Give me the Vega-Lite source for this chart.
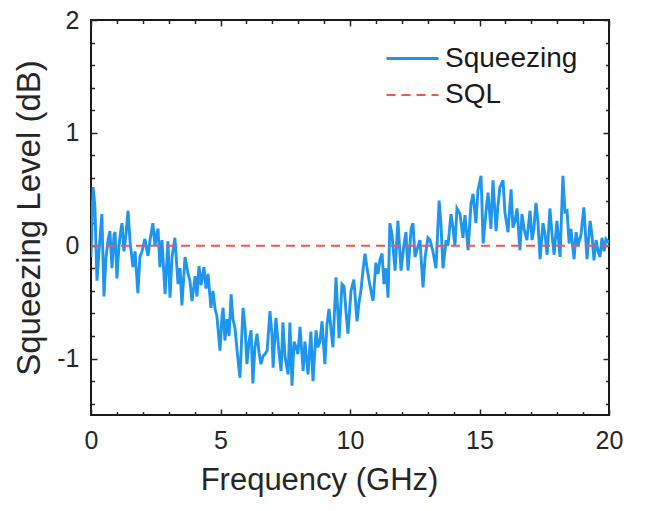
{
"$schema": "https://vega.github.io/schema/vega-lite/v6.json",
"width": 518, "height": 395,
"autosize": "none",
"padding": {"left": 91, "top": 20, "right": 37, "bottom": 96},
"data": {"values": [
{"f":0,"v":-0.1,"s":"Squeezing"},{"f":0.08,"v":0.52,"s":"Squeezing"},{"f":0.15,"v":0.35,"s":"Squeezing"},{"f":0.23,"v":-0.31,"s":"Squeezing"},{"f":0.31,"v":-0.05,"s":"Squeezing"},{"f":0.42,"v":0.28,"s":"Squeezing"},{"f":0.5,"v":-0.45,"s":"Squeezing"},{"f":0.58,"v":-0.1,"s":"Squeezing"},{"f":0.66,"v":0.05,"s":"Squeezing"},{"f":0.73,"v":0.13,"s":"Squeezing"},{"f":0.81,"v":-0.2,"s":"Squeezing"},{"f":0.89,"v":0.1,"s":"Squeezing"},{"f":0.93,"v":0.12,"s":"Squeezing"},{"f":1.0,"v":-0.29,"s":"Squeezing"},{"f":1.08,"v":0.0,"s":"Squeezing"},{"f":1.16,"v":0.15,"s":"Squeezing"},{"f":1.2,"v":0.2,"s":"Squeezing"},{"f":1.27,"v":-0.05,"s":"Squeezing"},{"f":1.35,"v":0.1,"s":"Squeezing"},{"f":1.43,"v":0.31,"s":"Squeezing"},{"f":1.51,"v":0.03,"s":"Squeezing"},{"f":1.62,"v":-0.19,"s":"Squeezing"},{"f":1.7,"v":-0.05,"s":"Squeezing"},{"f":1.81,"v":-0.42,"s":"Squeezing"},{"f":1.89,"v":-0.1,"s":"Squeezing"},{"f":1.97,"v":-0.05,"s":"Squeezing"},{"f":2.08,"v":0.06,"s":"Squeezing"},{"f":2.2,"v":-0.09,"s":"Squeezing"},{"f":2.28,"v":0.05,"s":"Squeezing"},{"f":2.39,"v":0.2,"s":"Squeezing"},{"f":2.47,"v":0.0,"s":"Squeezing"},{"f":2.55,"v":0.12,"s":"Squeezing"},{"f":2.59,"v":0.15,"s":"Squeezing"},{"f":2.66,"v":-0.19,"s":"Squeezing"},{"f":2.74,"v":0.05,"s":"Squeezing"},{"f":2.86,"v":-0.43,"s":"Squeezing"},{"f":2.97,"v":0.04,"s":"Squeezing"},{"f":3.05,"v":-0.46,"s":"Squeezing"},{"f":3.13,"v":-0.1,"s":"Squeezing"},{"f":3.24,"v":0.07,"s":"Squeezing"},{"f":3.36,"v":-0.34,"s":"Squeezing"},{"f":3.44,"v":-0.2,"s":"Squeezing"},{"f":3.51,"v":-0.53,"s":"Squeezing"},{"f":3.63,"v":-0.1,"s":"Squeezing"},{"f":3.75,"v":-0.25,"s":"Squeezing"},{"f":3.82,"v":-0.31,"s":"Squeezing"},{"f":3.9,"v":-0.49,"s":"Squeezing"},{"f":4.02,"v":-0.27,"s":"Squeezing"},{"f":4.09,"v":-0.45,"s":"Squeezing"},{"f":4.17,"v":-0.18,"s":"Squeezing"},{"f":4.25,"v":-0.35,"s":"Squeezing"},{"f":4.36,"v":-0.19,"s":"Squeezing"},{"f":4.44,"v":-0.38,"s":"Squeezing"},{"f":4.52,"v":-0.25,"s":"Squeezing"},{"f":4.63,"v":-0.55,"s":"Squeezing"},{"f":4.71,"v":-0.4,"s":"Squeezing"},{"f":4.79,"v":-0.56,"s":"Squeezing"},{"f":4.86,"v":-0.62,"s":"Squeezing"},{"f":4.98,"v":-0.93,"s":"Squeezing"},{"f":5.06,"v":-0.62,"s":"Squeezing"},{"f":5.1,"v":-0.55,"s":"Squeezing"},{"f":5.17,"v":-0.84,"s":"Squeezing"},{"f":5.25,"v":-0.65,"s":"Squeezing"},{"f":5.33,"v":-0.8,"s":"Squeezing"},{"f":5.41,"v":-0.43,"s":"Squeezing"},{"f":5.48,"v":-0.65,"s":"Squeezing"},{"f":5.56,"v":-0.73,"s":"Squeezing"},{"f":5.64,"v":-0.93,"s":"Squeezing"},{"f":5.75,"v":-1.17,"s":"Squeezing"},{"f":5.87,"v":-0.55,"s":"Squeezing"},{"f":5.95,"v":-0.73,"s":"Squeezing"},{"f":6.02,"v":-1.05,"s":"Squeezing"},{"f":6.1,"v":-0.85,"s":"Squeezing"},{"f":6.18,"v":-0.75,"s":"Squeezing"},{"f":6.25,"v":-1.22,"s":"Squeezing"},{"f":6.33,"v":-0.9,"s":"Squeezing"},{"f":6.41,"v":-0.78,"s":"Squeezing"},{"f":6.49,"v":-0.95,"s":"Squeezing"},{"f":6.56,"v":-1.05,"s":"Squeezing"},{"f":6.64,"v":-0.98,"s":"Squeezing"},{"f":6.72,"v":-0.96,"s":"Squeezing"},{"f":6.8,"v":-0.93,"s":"Squeezing"},{"f":6.91,"v":-0.58,"s":"Squeezing"},{"f":6.99,"v":-0.8,"s":"Squeezing"},{"f":7.03,"v":-1.08,"s":"Squeezing"},{"f":7.14,"v":-0.64,"s":"Squeezing"},{"f":7.26,"v":-0.95,"s":"Squeezing"},{"f":7.34,"v":-1.11,"s":"Squeezing"},{"f":7.41,"v":-0.68,"s":"Squeezing"},{"f":7.49,"v":-0.98,"s":"Squeezing"},{"f":7.61,"v":-1.14,"s":"Squeezing"},{"f":7.68,"v":-0.68,"s":"Squeezing"},{"f":7.76,"v":-1.24,"s":"Squeezing"},{"f":7.84,"v":-0.85,"s":"Squeezing"},{"f":7.92,"v":-0.9,"s":"Squeezing"},{"f":7.99,"v":-0.96,"s":"Squeezing"},{"f":8.07,"v":-0.72,"s":"Squeezing"},{"f":8.19,"v":-1.11,"s":"Squeezing"},{"f":8.26,"v":-0.85,"s":"Squeezing"},{"f":8.38,"v":-1.14,"s":"Squeezing"},{"f":8.49,"v":-0.76,"s":"Squeezing"},{"f":8.57,"v":-1.2,"s":"Squeezing"},{"f":8.69,"v":-0.75,"s":"Squeezing"},{"f":8.76,"v":-0.9,"s":"Squeezing"},{"f":8.84,"v":-0.85,"s":"Squeezing"},{"f":8.92,"v":-0.67,"s":"Squeezing"},{"f":9.03,"v":-1.05,"s":"Squeezing"},{"f":9.11,"v":-0.7,"s":"Squeezing"},{"f":9.19,"v":-0.56,"s":"Squeezing"},{"f":9.27,"v":-0.75,"s":"Squeezing"},{"f":9.34,"v":-0.9,"s":"Squeezing"},{"f":9.46,"v":-0.28,"s":"Squeezing"},{"f":9.58,"v":-0.82,"s":"Squeezing"},{"f":9.69,"v":-0.34,"s":"Squeezing"},{"f":9.77,"v":-0.36,"s":"Squeezing"},{"f":9.85,"v":-0.6,"s":"Squeezing"},{"f":9.92,"v":-0.78,"s":"Squeezing"},{"f":10.04,"v":-0.4,"s":"Squeezing"},{"f":10.15,"v":-0.3,"s":"Squeezing"},{"f":10.27,"v":-0.67,"s":"Squeezing"},{"f":10.35,"v":-0.5,"s":"Squeezing"},{"f":10.42,"v":-0.4,"s":"Squeezing"},{"f":10.5,"v":-0.22,"s":"Squeezing"},{"f":10.58,"v":-0.07,"s":"Squeezing"},{"f":10.66,"v":-0.2,"s":"Squeezing"},{"f":10.73,"v":-0.3,"s":"Squeezing"},{"f":10.81,"v":-0.4,"s":"Squeezing"},{"f":10.89,"v":-0.49,"s":"Squeezing"},{"f":11.0,"v":-0.15,"s":"Squeezing"},{"f":11.08,"v":-0.25,"s":"Squeezing"},{"f":11.16,"v":-0.12,"s":"Squeezing"},{"f":11.24,"v":-0.07,"s":"Squeezing"},{"f":11.31,"v":-0.34,"s":"Squeezing"},{"f":11.39,"v":-0.2,"s":"Squeezing"},{"f":11.47,"v":-0.46,"s":"Squeezing"},{"f":11.54,"v":0.2,"s":"Squeezing"},{"f":11.62,"v":0.1,"s":"Squeezing"},{"f":11.74,"v":-0.22,"s":"Squeezing"},{"f":11.85,"v":0.22,"s":"Squeezing"},{"f":11.97,"v":-0.22,"s":"Squeezing"},{"f":12.08,"v":0.0,"s":"Squeezing"},{"f":12.16,"v":0.12,"s":"Squeezing"},{"f":12.24,"v":-0.22,"s":"Squeezing"},{"f":12.36,"v":0.15,"s":"Squeezing"},{"f":12.43,"v":0.2,"s":"Squeezing"},{"f":12.51,"v":-0.1,"s":"Squeezing"},{"f":12.63,"v":0.0,"s":"Squeezing"},{"f":12.7,"v":0.05,"s":"Squeezing"},{"f":12.82,"v":-0.37,"s":"Squeezing"},{"f":12.9,"v":-0.1,"s":"Squeezing"},{"f":13.01,"v":0.07,"s":"Squeezing"},{"f":13.09,"v":0.05,"s":"Squeezing"},{"f":13.2,"v":-0.05,"s":"Squeezing"},{"f":13.32,"v":-0.2,"s":"Squeezing"},{"f":13.44,"v":0.4,"s":"Squeezing"},{"f":13.51,"v":0.2,"s":"Squeezing"},{"f":13.59,"v":-0.2,"s":"Squeezing"},{"f":13.71,"v":0.05,"s":"Squeezing"},{"f":13.78,"v":0.0,"s":"Squeezing"},{"f":13.9,"v":0.28,"s":"Squeezing"},{"f":13.98,"v":0.15,"s":"Squeezing"},{"f":14.05,"v":0.0,"s":"Squeezing"},{"f":14.13,"v":0.33,"s":"Squeezing"},{"f":14.25,"v":0.28,"s":"Squeezing"},{"f":14.36,"v":0.07,"s":"Squeezing"},{"f":14.44,"v":0.27,"s":"Squeezing"},{"f":14.56,"v":-0.04,"s":"Squeezing"},{"f":14.67,"v":0.37,"s":"Squeezing"},{"f":14.75,"v":0.46,"s":"Squeezing"},{"f":14.86,"v":0.2,"s":"Squeezing"},{"f":14.94,"v":0.49,"s":"Squeezing"},{"f":15.06,"v":0.62,"s":"Squeezing"},{"f":15.14,"v":0.02,"s":"Squeezing"},{"f":15.25,"v":0.3,"s":"Squeezing"},{"f":15.33,"v":0.47,"s":"Squeezing"},{"f":15.44,"v":0.15,"s":"Squeezing"},{"f":15.52,"v":0.58,"s":"Squeezing"},{"f":15.64,"v":0.13,"s":"Squeezing"},{"f":15.71,"v":0.35,"s":"Squeezing"},{"f":15.79,"v":0.52,"s":"Squeezing"},{"f":15.91,"v":0.58,"s":"Squeezing"},{"f":15.98,"v":0.3,"s":"Squeezing"},{"f":16.1,"v":0.12,"s":"Squeezing"},{"f":16.22,"v":0.5,"s":"Squeezing"},{"f":16.29,"v":0.16,"s":"Squeezing"},{"f":16.37,"v":0.22,"s":"Squeezing"},{"f":16.45,"v":0.33,"s":"Squeezing"},{"f":16.56,"v":-0.04,"s":"Squeezing"},{"f":16.64,"v":0.28,"s":"Squeezing"},{"f":16.72,"v":0.15,"s":"Squeezing"},{"f":16.83,"v":0.05,"s":"Squeezing"},{"f":16.95,"v":0.31,"s":"Squeezing"},{"f":17.03,"v":0.05,"s":"Squeezing"},{"f":17.1,"v":0.15,"s":"Squeezing"},{"f":17.18,"v":0.38,"s":"Squeezing"},{"f":17.26,"v":0.2,"s":"Squeezing"},{"f":17.34,"v":-0.12,"s":"Squeezing"},{"f":17.45,"v":0.2,"s":"Squeezing"},{"f":17.53,"v":0.1,"s":"Squeezing"},{"f":17.61,"v":-0.08,"s":"Squeezing"},{"f":17.72,"v":0.33,"s":"Squeezing"},{"f":17.8,"v":0.1,"s":"Squeezing"},{"f":17.88,"v":-0.08,"s":"Squeezing"},{"f":17.99,"v":0.22,"s":"Squeezing"},{"f":18.11,"v":-0.1,"s":"Squeezing"},{"f":18.22,"v":0.62,"s":"Squeezing"},{"f":18.3,"v":0.3,"s":"Squeezing"},{"f":18.38,"v":0.31,"s":"Squeezing"},{"f":18.46,"v":0.02,"s":"Squeezing"},{"f":18.53,"v":0.15,"s":"Squeezing"},{"f":18.65,"v":-0.12,"s":"Squeezing"},{"f":18.73,"v":0.12,"s":"Squeezing"},{"f":18.8,"v":0.0,"s":"Squeezing"},{"f":18.92,"v":0.1,"s":"Squeezing"},{"f":19.03,"v":0.34,"s":"Squeezing"},{"f":19.15,"v":-0.12,"s":"Squeezing"},{"f":19.27,"v":0.22,"s":"Squeezing"},{"f":19.34,"v":0.1,"s":"Squeezing"},{"f":19.42,"v":-0.13,"s":"Squeezing"},{"f":19.5,"v":0.05,"s":"Squeezing"},{"f":19.58,"v":-0.05,"s":"Squeezing"},{"f":19.65,"v":-0.1,"s":"Squeezing"},{"f":19.73,"v":0.07,"s":"Squeezing"},{"f":19.81,"v":-0.05,"s":"Squeezing"},{"f":19.88,"v":0.06,"s":"Squeezing"},{"f":19.96,"v":0.04,"s":"Squeezing"},{"f":20.0,"v":0.02,"s":"Squeezing"},
{"f":0,"v":0,"s":"SQL"},{"f":20,"v":0,"s":"SQL"}
]},
"layer": [
 {
  "mark": {"type": "line", "clip": true},
  "encoding": {
   "x": {"field": "f", "type": "quantitative", "scale": {"domain": [0, 20], "nice": false},
     "axis": {"orient": "bottom", "values": [0, 5, 10, 15, 20], "tickSize": -6, "labelPadding": 19, "title": "Frequency (GHz)", "titleFontSize": 31, "titlePadding": 12, "titleX": 228}},
   "y": {"field": "v", "type": "quantitative", "scale": {"domain": [-1.5, 2], "nice": false, "zero": false},
     "axis": {"orient": "left", "values": [-1, 0, 1, 2], "tickSize": -6, "labelPadding": 18, "labelExpr": "replace(datum.label, '\u2212', '-')", "title": "Squeezing Level (dB)", "titleFontSize": 33, "titlePadding": 10}},
   "color": {"field": "s", "type": "nominal", "scale": {"domain": ["Squeezing", "SQL"], "range": ["#1E96F0", "#FF4F4F"]},
     "legend": {"title": null, "orient": "none", "legendX": 300, "legendY": 17}},
   "strokeDash": {"field": "s", "type": "nominal", "scale": {"domain": ["Squeezing", "SQL"], "range": [[1, 0], [9, 6]]},
     "legend": {"title": null, "orient": "none", "legendX": 300, "legendY": 17}},
   "strokeWidth": {"field": "s", "type": "nominal", "scale": {"domain": ["Squeezing", "SQL"], "range": [2.9, 2]},
     "legend": {"title": null, "orient": "none", "legendX": 300, "legendY": 17}}
  }
 },
 {
  "mark": {"type": "point", "opacity": 0},
  "encoding": {
   "x": {"field": "f", "type": "quantitative", "axis": {"orient": "bottom", "values": [1,2,3,4,6,7,8,9,11,12,13,14,16,17,18,19], "tickSize": -3.5, "labels": false, "title": null}},
   "y": {"field": "v", "type": "quantitative", "axis": {"orient": "left", "values": [-1.4,-1.2,-0.8,-0.6,-0.4,-0.2,0.2,0.4,0.6,0.8,1.2,1.4,1.6,1.8], "tickSize": -3.5, "labels": false, "title": null}}
  }
 },
 {
  "mark": {"type": "point", "opacity": 0},
  "encoding": {
   "x": {"field": "f", "type": "quantitative", "axis": {"orient": "top", "values": [0, 5, 10, 15, 20], "tickSize": -6, "labels": false, "title": null}},
   "y": {"field": "v", "type": "quantitative", "axis": {"orient": "right", "values": [-1, 0, 1, 2], "tickSize": -6, "labels": false, "title": null}}
  }
 },
 {
  "mark": {"type": "point", "opacity": 0},
  "encoding": {
   "x": {"field": "f", "type": "quantitative", "axis": {"orient": "top", "values": [1,2,3,4,6,7,8,9,11,12,13,14,16,17,18,19], "tickSize": -3.5, "labels": false, "title": null}},
   "y": {"field": "v", "type": "quantitative", "axis": {"orient": "right", "values": [-1.4,-1.2,-0.8,-0.6,-0.4,-0.2,0.2,0.4,0.6,0.8,1.2,1.4,1.6,1.8], "tickSize": -3.5, "labels": false, "title": null}}
  }
 }
],
"resolve": {"axis": {"x": "independent", "y": "independent"}},
"config": {
 "font": "Liberation Sans",
 "background": "white",
 "view": {"stroke": "#1a1a1a", "strokeWidth": 2},
 "axis": {"grid": false, "domain": false, "tickColor": "#262626", "tickWidth": 1.5, "labelColor": "#262626", "titleColor": "#262626",
   "labelFontSize": 25, "titleFontWeight": "normal", "labelFlush": false},
 "legend": {"labelFontSize": 28, "labelColor": "#1a1a1a", "symbolType": "M-1.3,0H1.3", "symbolSize": 1600, "rowPadding": 1, "labelOffset": 11, "symbolStrokeWidth": 2.6}
}
}
